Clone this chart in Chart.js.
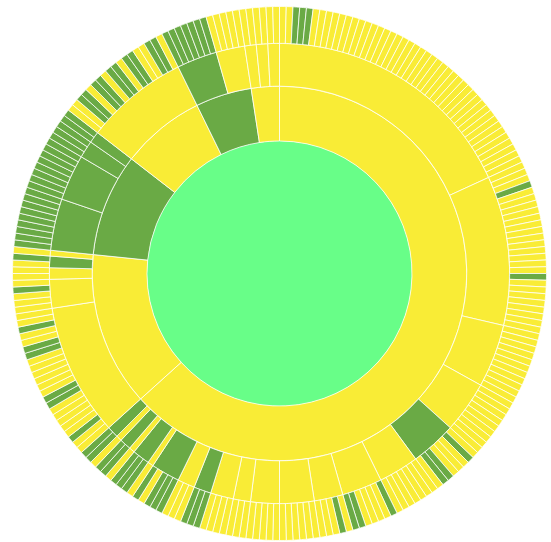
<!DOCTYPE html>
<html>
<head>
<meta charset="utf-8">
<script src="https://cdn.jsdelivr.net/npm/chart.js@4.4.1/dist/chart.umd.min.js"></script>
<style>
  html, body { margin: 0; padding: 0; background: #fff; }
  #wrap { width: 551px; height: 542px; }
</style>
</head>
<body>
<div id="wrap"><canvas id="sunburst"></canvas></div>
<script>
// Y = yellow node, G = green node. Order is clockwise from 12 o'clock.

// inner ring: top level branches
const branchStatus = ['Y', 'Y', 'G', 'Y', 'G', 'Y'];

// middle ring: sub-branches, the top branch each one sits under, and their status
const subParent = [0, 0, 0, 0, 0, 0, 0, 0, 0, 0, 0, 0, 0, 0, 0, 0, 0, 0, 0, 0, 0,
                   1, 1, 1, 1, 1,
                   2, 2, 2, 2,
                   3,
                   4, 4,
                   5, 5, 5];
const subStatus = ['Y', 'Y', 'Y', 'Y', 'G', 'Y', 'Y', 'Y', 'Y', 'Y', 'Y', 'Y', 'G', 'Y', 'G', 'Y', 'G', 'Y', 'G', 'Y', 'G',
                   'Y', 'Y', 'Y', 'G', 'Y',
                   'G', 'G', 'G', 'G',
                   'Y',
                   'G', 'Y',
                   'Y', 'Y', 'Y'];

// outer ring: leaves of each sub-branch, one letter per leaf, every leaf counts 1
const leafStatus = [
  'YYGGGYYYYY' + 'YYYYYYYYYY' + 'YYYYYYYYYY' + 'YYYYYYYYYY' + 'YYYYY',
  'YYYGYYYYYY' + 'YYYYYYYGYY' + 'YYYYYY',
  'YYYYYYYYYY' + 'Y',
  'YYYYY' + 'YYYY',
  'YGYYYGGY',
  'YYYY' + 'YYY',
  'GYYYYGG',
  'YGYYY',
  'YYYYYY',
  'YYYYY',
  'YYY',
  'YYYY',
  'GGG',
  'YYY',
  'GGGYG',
  'Y',
  'GGG',
  'Y',
  'GG',
  'Y',
  'GG',
  'YYGYYYYYGG' + 'YYYYYYGGYY' + 'GYY',
  'YYYGY',
  'YY',
  'YG',
  'Y',
  'GGGGG' + 'GGGG',
  'GGGG' + 'GGGG',
  'GGG',
  'GG',
  'YYGGYGGYGG' + 'YGGYYGGY',
  'GGGG' + 'GGG',
  'YYYYY',
  'YY',
  'YY',
  'YY'
];

const palette = { Y: '#f9ec36', G: '#6aaa45' };
const rootColor = '#68fe88';
const lineColor = 'rgba(255, 255, 255, 0.75)';

// build the ring values from the leaves
const leafValues = [];
const leafColors = [];
leafStatus.forEach(group => {
  for (const s of group) {
    leafValues.push(1);
    leafColors.push(palette[s]);
  }
});
const subValues = leafStatus.map(group => group.length);
const branchValues = branchStatus.map((_, i) =>
  subValues.reduce((sum, v, j) => sum + (subParent[j] === i ? v : 0), 0));

const ring = (data, colors, weight) => ({
  data: data,
  backgroundColor: colors,
  borderColor: lineColor,
  borderWidth: 1,
  hoverBorderWidth: 1,
  offset: 0,
  hoverOffset: 0,
  weight: weight
});

const ctx = document.getElementById('sunburst').getContext('2d');

const chart = new Chart(ctx, {
  type: 'doughnut',
  data: {
    datasets: [
      ring(leafValues, leafColors, 37),
      ring(subValues, subStatus.map(s => palette[s]), 43),
      ring(branchValues, branchStatus.map(s => palette[s]), 55),
      {
        data: [1],
        backgroundColor: [rootColor],
        borderWidth: 0,
        hoverBorderWidth: 0,
        offset: 0,
        hoverOffset: 0,
        weight: 133
      }
    ]
  },
  options: {
    responsive: true,
    maintainAspectRatio: false,
    animation: false,
    events: [],
    cutout: 0,
    layout: {
      padding: { left: 12, right: 4, top: 6, bottom: 1 }
    },
    plugins: {
      legend: { display: false },
      tooltip: { enabled: false }
    }
  }
});
</script>
</body>
</html>
